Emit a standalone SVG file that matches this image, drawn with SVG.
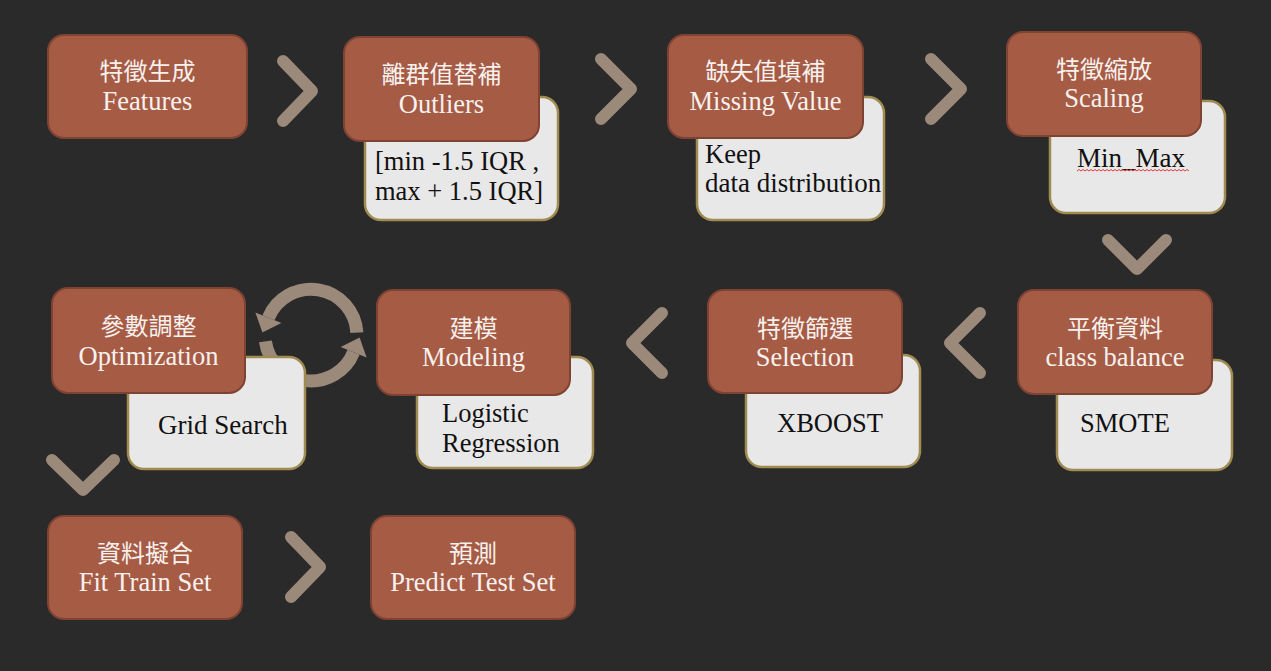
<svg xmlns="http://www.w3.org/2000/svg" width="1271" height="671" viewBox="0 0 1271 671">
<style>
.bg{fill:#2a2a2b}
.box{fill:#a65b45;stroke:#7f4333;stroke-width:2}
.sub{fill:#e8e8e8;stroke:#a08c50;stroke-width:2.5}
.cj{font-family:"Noto Sans CJK TC","Noto Sans CJK SC",sans-serif;font-size:24px;fill:#f7f1ee;text-anchor:middle}
.en{font-family:"Liberation Serif",serif;font-size:26.5px;fill:#f7f1ee;text-anchor:middle}
.st{font-family:"Liberation Serif",serif;font-size:26.5px;fill:#111}
.chev{fill:none;stroke:#9b8979;stroke-width:12;stroke-linecap:round;stroke-linejoin:round}
.cyc{fill:none;stroke:#9b8979;stroke-width:13}
.cyh{fill:#9b8979}
</style>
<rect class="bg" x="0" y="0" width="1271" height="671"/>

<g id="connectors">
<polyline class="chev" points="283,61 312,91 283,121"/>
<polyline class="chev" points="601,59 631,89 601,119"/>
<polyline class="chev" points="931,59 961,89 931,119"/>
<polyline class="chev" points="1108,240 1137,269 1166,240"/>
<polyline class="chev" points="662,313 632,343 662,373"/>
<polyline class="chev" points="980,313 950,343 980,373"/>
<polyline class="chev" points="52,460 83,490 114,460"/>
<polyline class="chev" points="291,537 320,567 291,597"/>
<g id="cycle">
<path class="cyc" d="M356.9,332.6 A46,46 0 0 0 268.4,317.8"/>
<polygon class="cyh" points="255.4,312.5 281.4,323.1 262.4,332.6"/>
<path class="cyc" d="M265.4,341.4 A46,46 0 0 0 353.6,352.2"/>
<polygon class="cyh" points="366.6,357.5 340.6,346.9 359.6,337.4"/>
</g>
</g>

<g id="node-features">
<rect class="box" x="48" y="35" width="199" height="103" rx="16"/>
<text class="cj" x="147.5" y="80">特徵生成</text>
<text class="en" x="147.5" y="110">Features</text>
</g>

<g id="node-outliers">
<rect class="sub" x="365" y="97" width="193" height="123" rx="16"/>
<rect class="box" x="344" y="37" width="195" height="104" rx="16"/>
<text class="cj" x="441.5" y="83">離群值替補</text>
<text class="en" x="441.5" y="113">Outliers</text>
<text class="st" x="375" y="170">[min -1.5 IQR ,</text>
<text class="st" x="375" y="200">max + 1.5 IQR]</text>
</g>

<g id="node-missing">
<rect class="sub" x="697" y="97" width="187" height="123" rx="16"/>
<rect class="box" x="668" y="35" width="195" height="103" rx="16"/>
<text class="cj" x="765.5" y="80">缺失值填補</text>
<text class="en" x="765.5" y="110">Missing Value</text>
<text class="st" x="705" y="163">Keep</text>
<text class="st" x="705" y="192" style="font-size:27px">data distribution</text>
</g>

<g id="node-scaling">
<rect class="sub" x="1050" y="101" width="175" height="112" rx="16"/>
<rect class="box" x="1007" y="32" width="194" height="104" rx="16"/>
<text class="cj" x="1104" y="78">特徵縮放</text>
<text class="en" x="1104" y="107">Scaling</text>
<text class="st" x="1077" y="167" style="font-size:27px">Min_Max</text>
<path d="M1077,171 l2,-1.5 l2,1.5 l2,-1.5 l2,1.5 l2,-1.5 l2,1.5 l2,-1.5 l2,1.5 l2,-1.5 l2,1.5 l2,-1.5 l2,1.5 l2,-1.5 l2,1.5 l2,-1.5 l2,1.5 l2,-1.5 l2,1.5 l2,-1.5 l2,1.5 l2,-1.5 l2,1.5 l2,-1.5 l2,1.5 l2,-1.5 l2,1.5 l2,-1.5 l2,1.5 l2,-1.5 l2,1.5 l2,-1.5 l2,1.5 l2,-1.5 l2,1.5 l2,-1.5 l2,1.5 l2,-1.5 l2,1.5 l2,-1.5 l2,1.5 l2,-1.5 l2,1.5 l2,-1.5 l2,1.5 l2,-1.5 l2,1.5 l2,-1.5 l2,1.5 l2,-1.5 l2,1.5 l2,-1.5 l2,1.5 l2,-1.5 l2,1.5 l2,-1.5 l2,1.5" fill="none" stroke="#e03a3a" stroke-width="1"/>
</g>

<g id="node-balance">
<rect class="sub" x="1057" y="360" width="175" height="110" rx="16"/>
<rect class="box" x="1018" y="290" width="194" height="104" rx="16"/>
<text class="cj" x="1115" y="337">平衡資料</text>
<text class="en" x="1115" y="366">class balance</text>
<text class="st" x="1080" y="432">SMOTE</text>
</g>

<g id="node-selection">
<rect class="sub" x="746" y="355" width="174" height="112" rx="16"/>
<rect class="box" x="708" y="290" width="194" height="103" rx="16"/>
<text class="cj" x="805" y="337">特徵篩選</text>
<text class="en" x="805" y="366">Selection</text>
<text class="st" x="777" y="432">XBOOST</text>
</g>

<g id="node-modeling">
<rect class="sub" x="417" y="357" width="176" height="111" rx="16"/>
<rect class="box" x="377" y="290" width="193" height="105" rx="16"/>
<text class="cj" x="473.5" y="337">建模</text>
<text class="en" x="473.5" y="366">Modeling</text>
<text class="st" x="442" y="422">Logistic</text>
<text class="st" x="442" y="452">Regression</text>
</g>

<g id="node-optimization">
<rect class="sub" x="128" y="357" width="177" height="112" rx="16"/>
<rect class="box" x="52" y="288" width="193" height="105" rx="16"/>
<text class="cj" x="148.5" y="335">參數調整</text>
<text class="en" x="148.5" y="365">Optimization</text>
<text class="st" x="158" y="434" style="font-size:27px">Grid Search</text>
</g>

<g id="node-fit">
<rect class="box" x="48" y="516" width="194" height="103" rx="16"/>
<text class="cj" x="145" y="562">資料擬合</text>
<text class="en" x="145" y="591">Fit Train Set</text>
</g>

<g id="node-predict">
<rect class="box" x="371" y="516" width="204" height="103" rx="16"/>
<text class="cj" x="473" y="562">預測</text>
<text class="en" x="473" y="591">Predict Test Set</text>
</g>
</svg>
